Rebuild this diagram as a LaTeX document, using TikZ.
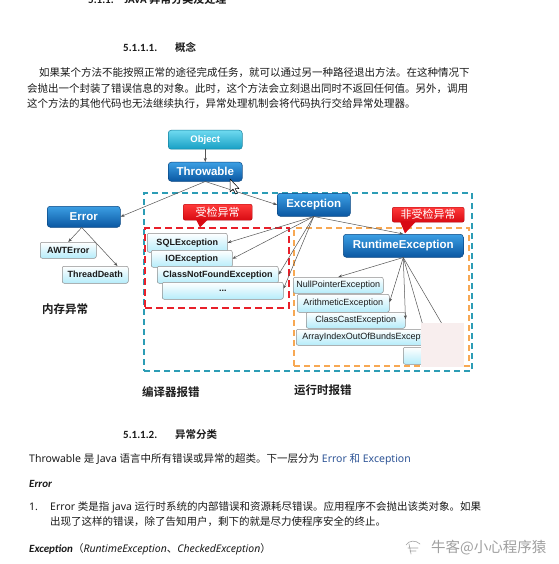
\documentclass[tikz,border=0pt]{standalone}
\usepackage{fontspec}
\setmainfont{Noto Sans}
\newfontfamily\cjk{Noto Sans CJK SC}[BoldFont={Noto Sans CJK SC Bold}]
\newfontfamily\boxfont{Liberation Sans}
\newfontfamily\docfont{Carlito}
\usetikzlibrary{arrows.meta,positioning}
\definecolor{exink}{HTML}{1A1A1A}
\definecolor{exbluetop}{HTML}{3C9FE4}
\definecolor{exbluebot}{HTML}{0A57A2}
\definecolor{excyantop}{HTML}{6FDAF0}
\definecolor{excyanbot}{HTML}{169FC4}
\definecolor{expalebot}{HTML}{B5ECFA}
\definecolor{exredtop}{HTML}{FF3A3A}
\definecolor{exredbot}{HTML}{D80A12}
\definecolor{exteal}{HTML}{2C9DB5}
\definecolor{exred}{HTML}{E8202A}
\definecolor{exorange}{HTML}{F7A853}
\definecolor{exdocblue}{HTML}{2F5597}
\definecolor{expink}{HTML}{F8EEEE}
\definecolor{exgrey}{HTML}{A0A0A0}
\definecolor{exline}{HTML}{555555}
\newcommand{\zhtext}[1]{{\cjk #1}}
\newcommand{\bitext}[1]{{\docfont\fontsize{11}{12}\selectfont\bfseries\itshape #1}}
\tikzset{
  ex text/.style={inner sep=0pt, anchor=base west, text=exink, font=\fontsize{10.5}{12}\selectfont},
  ex zh/.style={ex text, font=\cjk\fontsize{10.5}{12}\selectfont},
  ex head/.style={ex text, font=\docfont\fontsize{11}{12}\selectfont\bfseries},
  ex zh head/.style={ex text, font=\cjk\fontsize{10.5}{12}\selectfont\bfseries},
  ex label/.style={ex text, font=\cjk\fontsize{11.5}{13}\selectfont\bfseries},
  ex main/.style={anchor=north west, inner sep=0pt, draw=exbluebot!80!black, line width=0.5pt,
    rounded corners=3pt, top color=exbluetop, bottom color=exbluebot, text=white,
    font=\boxfont\fontsize{11.5}{13}\selectfont\bfseries},
  ex root/.style={ex main, draw=excyanbot!80!black, top color=excyantop, bottom color=excyanbot,
    font=\boxfont\fontsize{9.5}{11}\selectfont\bfseries},
  ex pale/.style={anchor=north west, inner sep=0pt, draw=black!45, line width=0.5pt,
    rounded corners=2pt, top color=white, bottom color=expalebot, text=exink,
    font=\boxfont\fontsize{9}{11}\selectfont\bfseries},
  ex pale plain/.style={ex pale, font=\boxfont\fontsize{9}{11}\selectfont},
  ex callout/.style={anchor=north west, inner sep=0pt, draw=exredbot!80!black, line width=0.4pt,
    rounded corners=2pt, top color=exredtop, bottom color=exredbot, text=white,
    font=\cjk\fontsize{11}{13}\selectfont},
  ex zone/.style={anchor=north west, inner sep=0pt, line width=2pt, dash pattern=on 6pt off 4pt},
  ex arrow/.style={-{Stealth[length=4pt,width=3pt]}, draw=exline, line width=0.5pt}
}
\begin{document}
\begin{tikzpicture}[x=1pt, y=-1pt]
  \useasboundingbox (0,0) rectangle (558,564);
  \clip (0,0) rectangle (558,564);
  \fill[white] (0,0) rectangle (558,564);

  % text above the figure
  \node[ex head] (chapterHead) at (88,3.5) {5.1.1.\quad JAVA \zhtext{\bfseries 异常分类及处理}};
  \node[ex head] (conceptNo) at (123,52) {5.1.1.1.};
  \node[ex zh head] (conceptHead) at (175,52) {概念};
  \node[ex zh] (paraOne) at (39,77) {如果某个方法不能按照正常的途径完成任务，就可以通过另一种路径退出方法。在这种情况下};
  \node[ex zh] (paraTwo) at (27,92.5) {会抛出一个封装了错误信息的对象。此时，这个方法会立刻退出同时不返回任何值。另外，调用};
  \node[ex zh] (paraThree) at (27,108) {这个方法的其他代码也无法继续执行，异常处理机制会将代码执行交给异常处理器。};

  % dashed zones
  \node[ex zone, draw=exteal, minimum width=328pt, minimum height=178pt] (outerZone) at (143,192) {};
  \node[ex zone, draw=exred, line width=2.2pt, dash pattern=on 7pt off 4pt, minimum width=144pt, minimum height=80pt] (checkedZone) at (144,227) {};
  \node[ex zone, draw=exorange, minimum width=175pt, minimum height=138pt] (uncheckedZone) at (293,227) {};

  % hierarchy boxes
  \node[ex root, minimum width=74pt, minimum height=19pt] (object) at (168,130) {Object};
  \node[ex main, minimum width=74pt, minimum height=19pt] (throwable) at (168,162) {Throwable};
  \node[ex main, minimum width=73pt, minimum height=21pt] (error) at (47,206) {Error};
  \node[ex main, minimum width=73pt, minimum height=23pt] (exception) at (277,193) {Exception};
  \node[ex main, minimum width=120pt, minimum height=23pt] (runtime) at (343,234) {RuntimeException};

  \node[ex pale, minimum width=56pt, minimum height=16pt] (awtError) at (40,242) {AWTError};
  \node[ex pale, minimum width=66pt, minimum height=17pt] (threadDeath) at (62,266) {ThreadDeath};

  \node[ex pale, minimum width=80pt, minimum height=19pt] (sqlExc) at (147,233) {SQLException};
  \node[ex pale, minimum width=81pt, minimum height=17pt] (ioExc) at (151,250) {IOException};
  \node[ex pale, minimum width=121pt, minimum height=17pt] (cnfExc) at (157,266) {ClassNotFoundException};
  \node[ex pale, minimum width=121pt, minimum height=17pt] (moreExc) at (162,282) {...};

  \node[ex pale plain, minimum width=90pt, minimum height=16pt] (npeExc) at (293,277) {NullPointerException};
  \node[ex pale plain, minimum width=92pt, minimum height=18pt] (arithExc) at (297,294) {ArithmeticException};
  \node[ex pale plain, minimum width=99pt, minimum height=16pt] (castExc) at (306,312) {ClassCastException};
  \node[ex pale plain, minimum width=145pt, minimum height=16pt] (indexExc) at (296,329) {ArrayIndexOutOfBundsException};
  \node[ex pale plain, minimum width=56pt, minimum height=17pt] (lastExc) at (403,347) {};
  \coordinate (indexHit) at (424,329);
  \coordinate (lastHit) at (459,353);

  % connectors
  \draw[ex arrow] (object) -- (throwable);
  \draw[ex arrow] (throwable.south) -- (error.east);
  \draw[ex arrow] (throwable.south) -- (exception.west);
  \draw[ex arrow] ([xshift=-2pt]error.south) -- (awtError.north);
  \draw[ex arrow] ([xshift=-2pt]error.south) -- ([xshift=-11pt]threadDeath.north east);
  \draw[ex arrow] (exception.south) -- (sqlExc.east);
  \draw[ex arrow] (exception.south) -- (ioExc.east);
  \draw[ex arrow] (exception.south) -- (cnfExc.east);
  \draw[ex arrow] (exception.south) -- ([yshift=2pt]moreExc.east);
  \draw[ex arrow] (exception.south) -- (runtime.north);
  \draw[ex arrow] (runtime.south) -- (npeExc.north);
  \draw[ex arrow] (runtime.south) -- ([yshift=1pt]arithExc.east);
  \draw[ex arrow] (runtime.south) -- ([yshift=1pt]castExc.east);
  \draw[ex arrow] (runtime.south) -- (indexHit);
  \draw[ex arrow] (runtime.south) -- (lastHit);

  % callouts
  \node[ex callout, minimum width=69pt, minimum height=16pt] (checkedTag) at (183,204) {受检异常};
  \fill[exredbot] ([xshift=13pt,yshift=1pt]checkedTag.south west) -- ++(4,8) -- ++(8,-8) -- cycle;
  \node[ex callout, minimum width=72pt, minimum height=15pt] (uncheckedTag) at (392,207) {非受检异常};
  \fill[exredbot] ([xshift=8pt,yshift=1pt]uncheckedTag.south west) -- ++(5,12) -- ++(11,-12) -- cycle;

  \node[ex label] (memoryLabel) at (42,313) {内存异常};
  \node[ex label] (compileLabel) at (142,396) {编译器报错};
  \node[ex label] (runLabel) at (294,394) {运行时报错};

  % patch over the corner and the pointer
  \node[fill=expink, anchor=north west, inner sep=0pt, minimum width=43pt, minimum height=44pt] (maskPatch) at (421,323) {};
  \draw[fill=white, draw=black, line width=0.5pt, line join=round] (230,179) -- ++(0,13) -- ++(3,-3) -- ++(2.5,5) -- ++(2,-1) -- ++(-2.5,-4.5) -- ++(4,0) -- cycle;

  % text below the figure
  \node[ex head] (classNo) at (123,438) {5.1.1.2.};
  \node[ex zh head] (classHead) at (175,438) {异常分类};
  \node[ex text] (throwLine) at (29,462) {Throwable \zhtext{是} Java \zhtext{语言中所有错误或异常的超类。下一层分为} \textcolor{exdocblue}{Error \zhtext{和} Exception}};
  \node[ex text] (errorHead) at (29,487) {\bitext{Error}};
  \node[ex text] (itemNo) at (29,510) {1.};
  \node[ex text] (itemLineOne) at (50,510) {Error \zhtext{类是指} java \zhtext{运行时系统的内部错误和资源耗尽错误。应用程序不会抛出该类对象。如果}};
  \node[ex zh] (itemLineTwo) at (50,525) {出现了这样的错误，除了告知用户，剩下的就是尽力使程序安全的终止。};
  \node[ex text] (excHead) at (29,552) {\bitext{Exception}\zhtext{（}\textit{RuntimeException}\zhtext{、}\textit{CheckedException}\zhtext{）}};
  \draw[exgrey, line width=0.6pt, line cap=round] (406,545) .. controls (409,540) and (416,540) .. (420,544)
    (408,548) -- (418,548) (410,551) -- (416,551) (409,544) -- (411,554);
  \node[ex zh, text=exgrey, font=\cjk\fontsize{14.5}{16}\selectfont] (watermark) at (431,552) {牛客@小心程序猿};
\end{tikzpicture}
\end{document}
